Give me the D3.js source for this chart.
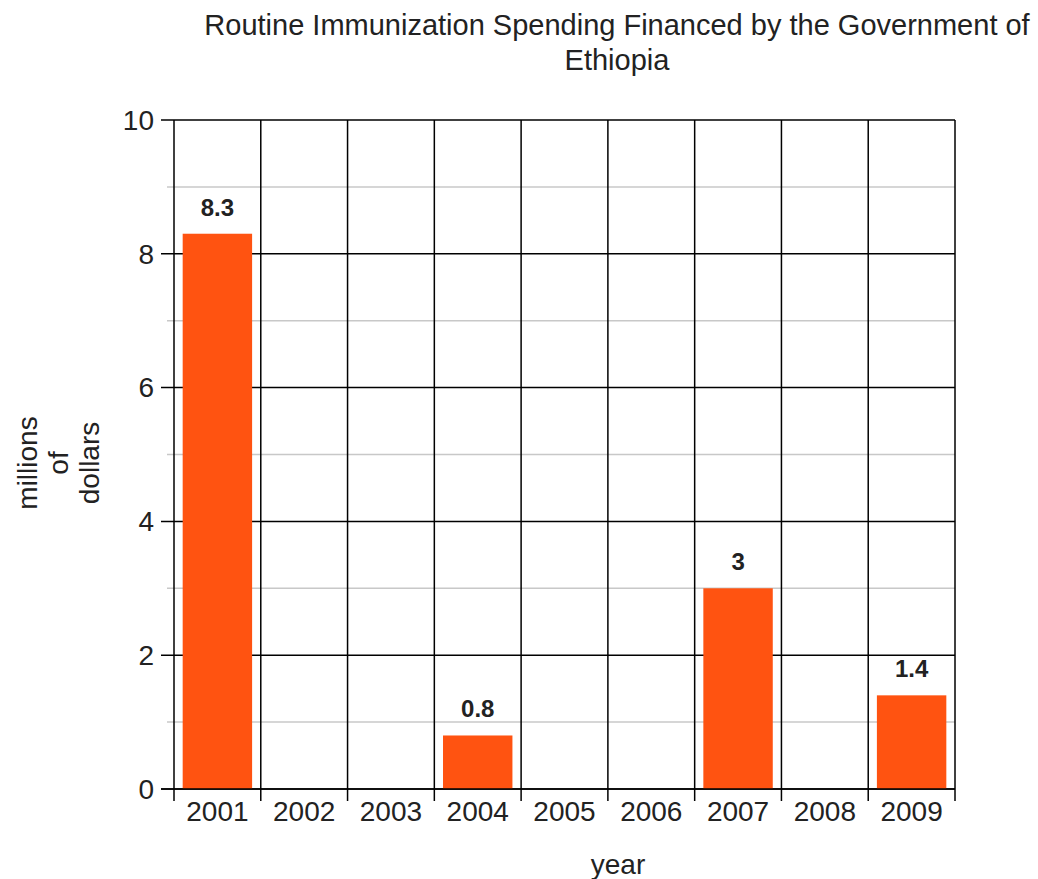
<!DOCTYPE html>
<html lang="en">
<head>
<meta charset="utf-8">
<title>Routine Immunization Spending</title>
<script src="https://cdn.jsdelivr.net/npm/d3@7"></script>
<style>
  body { margin: 0; background: #fff; }
  svg { font-family: "Liberation Sans", Arial, sans-serif; }
</style>
</head>
<body>
<script>
// data
var years = ["2001", "2002", "2003", "2004", "2005", "2006", "2007", "2008", "2009"];
var spending = [8.3, null, null, 0.8, null, null, 3, null, 1.4];
var yTicks = [0, 2, 4, 6, 8, 10];
var yMinor = [1, 3, 5, 7, 9];

var W = 1038, H = 879;
var plotL = 174, plotR = 955, plotT = 120, plotB = 789;

var svg = d3.select("body").append("svg")
  .attr("width", W)
  .attr("height", H);

var x = d3.scaleBand().domain(years).range([plotL, plotR]);
var y = d3.scaleLinear().domain([0, 10]).range([plotB, plotT]);

// minor grid (grey)
svg.append("g").selectAll("line")
  .data(yMinor).enter().append("line")
  .attr("x1", plotL - 7).attr("x2", plotR)
  .attr("y1", function(d) { return y(d); })
  .attr("y2", function(d) { return y(d); })
  .attr("stroke", "#c8c8c8")
  .attr("stroke-width", 1.5);

// major grid
svg.append("g").selectAll("line")
  .data(yTicks).enter().append("line")
  .attr("x1", plotL - 13).attr("x2", plotR)
  .attr("y1", function(d) { return y(d); })
  .attr("y2", function(d) { return y(d); })
  .attr("stroke", "#000")
  .attr("stroke-width", 1.5);

// vertical band lines + bottom ticks
var edges = years.map(function(d) { return x(d); }).concat([plotR]);
svg.append("g").selectAll("line")
  .data(edges).enter().append("line")
  .attr("x1", function(d) { return d; })
  .attr("x2", function(d) { return d; })
  .attr("y1", plotT)
  .attr("y2", plotB + 12)
  .attr("stroke", "#000")
  .attr("stroke-width", 1.5);

// bars
var pad = x.bandwidth() * 0.1;
var barData = years.map(function(d, i) { return {year: d, v: spending[i]}; })
  .filter(function(d) { return d.v != null; });

svg.append("g").selectAll("rect")
  .data(barData).enter().append("rect")
  .attr("x", function(d) { return x(d.year) + pad; })
  .attr("width", x.bandwidth() - 2 * pad)
  .attr("y", function(d) { return y(d.v); })
  .attr("height", function(d) { return y(0) - y(d.v); })
  .attr("fill", "#ff5311");

// redraw baseline over bars
svg.append("line")
  .attr("x1", plotL - 13).attr("x2", plotR)
  .attr("y1", y(0)).attr("y2", y(0))
  .attr("stroke", "#000").attr("stroke-width", 1.5);

// value labels
svg.append("g").selectAll("text")
  .data(barData).enter().append("text")
  .attr("x", function(d) { return x(d.year) + x.bandwidth() / 2; })
  .attr("y", function(d) { return y(d.v) - 18; })
  .attr("text-anchor", "middle")
  .attr("font-size", 24)
  .attr("font-weight", "bold")
  .attr("fill", "#222")
  .text(function(d) { return d.v; });

// y tick labels
svg.append("g").selectAll("text")
  .data(yTicks).enter().append("text")
  .attr("x", plotL - 20)
  .attr("y", function(d) { return y(d); })
  .attr("dy", "0.35em")
  .attr("text-anchor", "end")
  .attr("font-size", 28)
  .attr("fill", "#222")
  .text(function(d) { return d; });

// x tick labels
svg.append("g").selectAll("text")
  .data(years).enter().append("text")
  .attr("x", function(d) { return x(d) + x.bandwidth() / 2; })
  .attr("y", plotB + 32)
  .attr("text-anchor", "middle")
  .attr("font-size", 28)
  .attr("fill", "#222")
  .text(function(d) { return d; });

// title
var title = svg.append("text")
  .attr("x", 617)
  .attr("text-anchor", "middle")
  .attr("font-size", 29)
  .attr("fill", "#222");
title.append("tspan").attr("x", 617).attr("y", 35).text("Routine Immunization Spending Financed by the Government of");
title.append("tspan").attr("x", 617).attr("y", 70).text("Ethiopia");

// x axis title
svg.append("text")
  .attr("x", 618)
  .attr("y", 874)
  .attr("text-anchor", "middle")
  .attr("font-size", 28)
  .attr("fill", "#222")
  .text("year");

// y axis title
var ylab = svg.append("text")
  .attr("transform", "translate(59,463) rotate(-90)")
  .attr("text-anchor", "middle")
  .attr("font-size", 28)
  .attr("fill", "#222");
["millions", "of", "dollars"].forEach(function(t, i) {
  ylab.append("tspan").attr("x", 0).attr("y", (i - 1) * 31 + 9).text(t);
});
</script>
</body>
</html>
